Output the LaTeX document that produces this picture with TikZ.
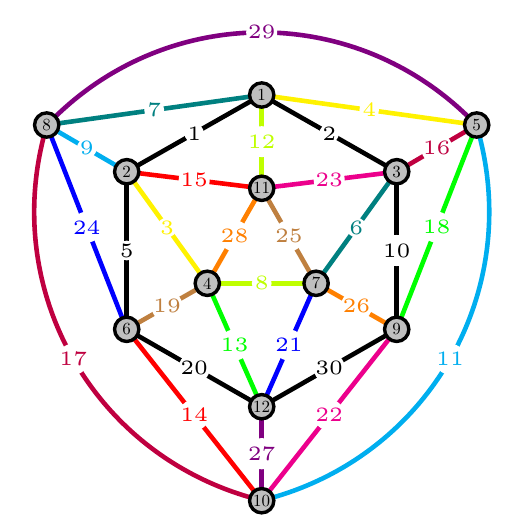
\documentclass[tikz,border=0pt]{standalone}
\usetikzlibrary{backgrounds}
\definecolor{cCyan}{RGB}{0,174,239}
\definecolor{cMagenta}{RGB}{236,0,140}
\definecolor{cYellow}{RGB}{255,242,0}
\definecolor{cPurple}{RGB}{191,0,64}
\definecolor{cViolet}{RGB}{128,0,128}
\definecolor{cLime}{RGB}{191,255,0}
\definecolor{cGreen}{RGB}{0,255,0}
\definecolor{cTeal}{RGB}{0,128,128}
\definecolor{cBrown}{RGB}{191,128,64}
\definecolor{cOrange}{RGB}{255,128,0}
\definecolor{cRed}{RGB}{255,0,0}
\definecolor{cBlue}{RGB}{0,0,255}
\begin{document}
\begin{tikzpicture}[x=0.294118pt,y=0.294118pt,
  vtx/.style={circle,draw=black,fill=lightgray,line width=1pt,
    scale=0.5,minimum size=14.3pt,inner sep=0pt,font=\fontsize{10}{12}\selectfont},
  lab/.style={circle,fill=white,inner sep=0pt,scale=1.2,font=\fontsize{5}{6}\selectfont},
  ed/.style={line width=1.35pt,color=#1}]
\useasboundingbox (0,0) rectangle (528,-514);
\node[vtx] (n1) at (261.7,-95) {1};
\node[vtx] (n2) at (126.7,-171.7) {2};
\node[vtx] (n3) at (396.7,-171.7) {3};
\node[vtx] (n4) at (207.3,-283.3) {4};
\node[vtx] (n5) at (476.7,-125) {5};
\node[vtx] (n6) at (126.7,-329.3) {6};
\node[vtx] (n7) at (316.1,-283.3) {7};
\node[vtx] (n8) at (46.7,-125) {8};
\node[vtx] (n9) at (396.7,-329.3) {9};
\node[vtx] (n10) at (261.7,-500.7) {10};
\node[vtx] (n11) at (261.7,-188.3) {11};
\node[vtx] (n12) at (261.7,-406.7) {12};
\begin{pgfonlayer}{background}
\draw[ed=black] (n1) -- node[lab]{1} (n2);
\draw[ed=black] (n1) -- node[lab]{2} (n3);
\draw[ed=cYellow] (n2) -- node[lab]{3} (n4);
\draw[ed=cYellow] (n1) -- node[lab]{4} (n5);
\draw[ed=black] (n2) -- node[lab]{5} (n6);
\draw[ed=cTeal] (n3) -- node[lab]{6} (n7);
\draw[ed=cTeal] (n8) -- node[lab]{7} (n1);
\draw[ed=cLime] (n4) -- node[lab]{8} (n7);
\draw[ed=cCyan] (n8) -- node[lab]{9} (n2);
\draw[ed=black] (n3) -- node[lab]{10} (n9);
\draw[ed=cCyan] (n5) to[bend left=44] node[lab]{11} (n10);
\draw[ed=cLime] (n1) -- node[lab]{12} (n11);
\draw[ed=cGreen] (n4) -- node[lab]{13} (n12);
\draw[ed=cRed] (n6) -- node[lab]{14} (n10);
\draw[ed=cRed] (n2) -- node[lab]{15} (n11);
\draw[ed=cPurple] (n5) -- node[lab]{16} (n3);
\draw[ed=cPurple] (n8) to[bend right=44] node[lab]{17} (n10);
\draw[ed=cGreen] (n5) -- node[lab]{18} (n9);
\draw[ed=cBrown] (n6) -- node[lab]{19} (n4);
\draw[ed=black] (n6) -- node[lab]{20} (n12);
\draw[ed=cBlue] (n7) -- node[lab]{21} (n12);
\draw[ed=cMagenta] (n9) -- node[lab]{22} (n10);
\draw[ed=cMagenta] (n11) -- node[lab]{23} (n3);
\draw[ed=cBlue] (n8) -- node[lab]{24} (n6);
\draw[ed=cBrown] (n11) -- node[lab]{25} (n7);
\draw[ed=cOrange] (n7) -- node[lab]{26} (n9);
\draw[ed=cViolet] (n12) -- node[lab]{27} (n10);
\draw[ed=cOrange] (n11) -- node[lab]{28} (n4);
\draw[ed=cViolet] (n8) to[bend left=44] node[lab]{29} (n5);
\draw[ed=black] (n12) -- node[lab]{30} (n9);
\end{pgfonlayer}
\end{tikzpicture}
\end{document}
